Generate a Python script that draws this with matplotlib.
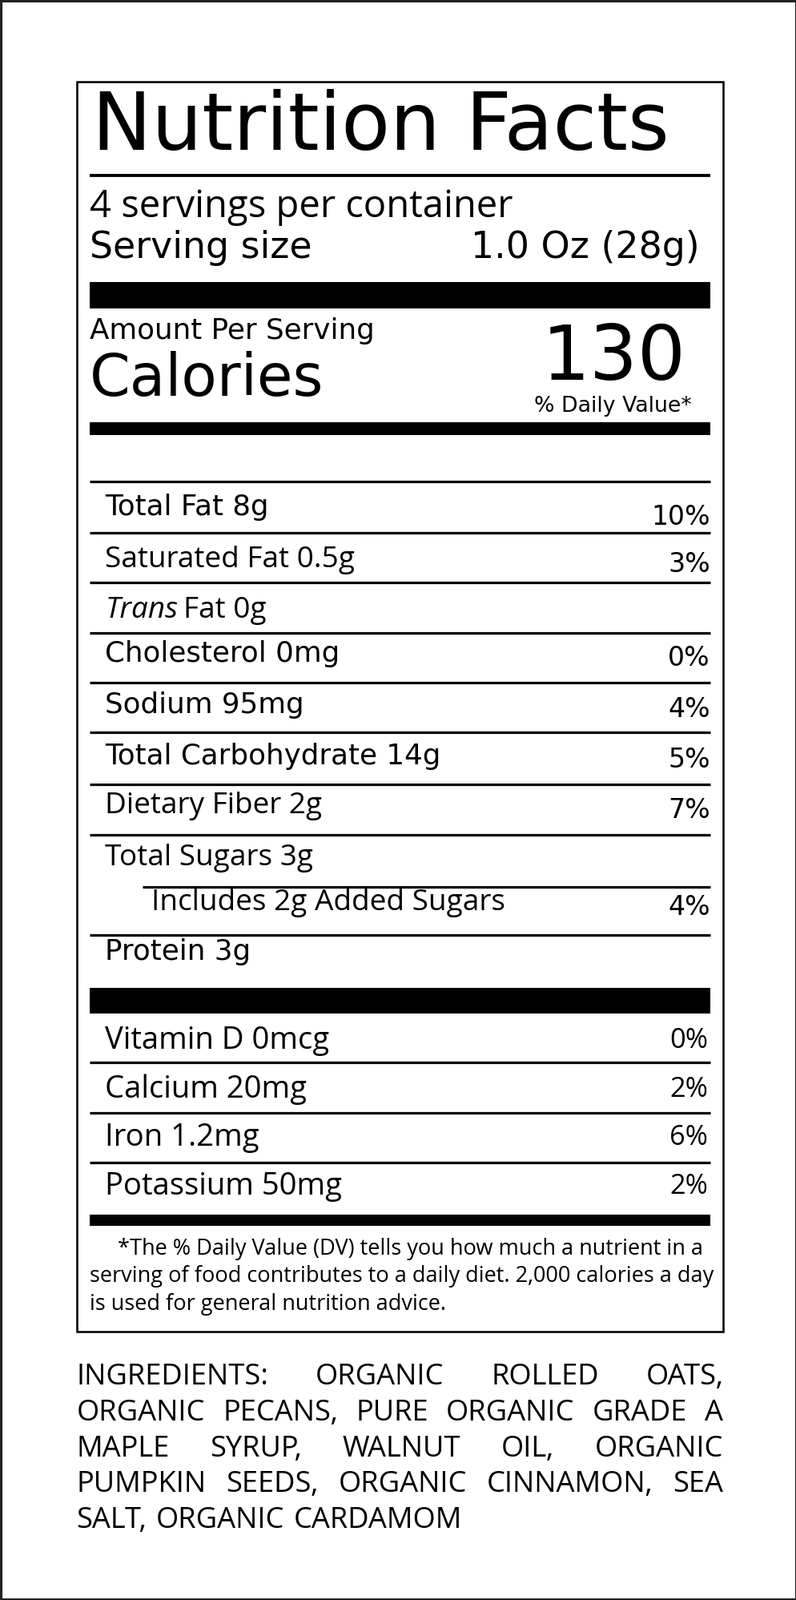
import matplotlib.pyplot as plt
from matplotlib.patches import Rectangle

# scale from the 781px-wide layout grid to the 995px output
S = 995 / 781.0
PT = S * 0.72


def fs(px):
    return px * PT


serving_line = '4 servings per container'
serving_size = '1.0 Oz (28g)'
calories = '130'

main_labels = ['Total Fat', 'Saturated Fat', 'Trans', 'Cholesterol', 'Sodium',
               'Total Carbohydrate', 'Dietary Fiber', 'Total Sugars',
               'Includes 2g Added Sugars', 'Protein']
main_amounts = ['8g', '0.5g', 'Fat 0g', '0mg', '95mg', '14g', '2g', '3g', '', '3g']
main_dv = ['10%', '3%', '', '0%', '4%', '5%', '7%', '', '4%', '']
main_y = [497, 549, 598, 641, 691, 741, 790, 841, 885, 933]
main_lines = [522, 571, 620, 669, 718, 769, 818, 869, 916]
headline = [True, False, False, True, True, True, False, False, False, True]

vit_labels = ['Vitamin D 0mcg', 'Calcium 20mg', 'Iron 1.2mg', 'Potassium 50mg']
vit_dv = ['0%', '2%', '6%', '2%']
vit_y = [1020, 1068, 1115, 1163]
vit_lines = [1041, 1091, 1139]

footnote = ['     *The % Daily Value (DV) tells you how much a nutrient in a',
            'serving of food contributes to a daily diet. 2,000 calories a day',
            'is used for general nutrition advice.']
ingredients = ['INGREDIENTS: ORGANIC ROLLED OATS,',
               'ORGANIC PECANS, PURE ORGANIC GRADE A',
               'MAPLE SYRUP, WALNUT OIL, ORGANIC',
               'PUMPKIN SEEDS, ORGANIC CINNAMON, SEA',
               'SALT, ORGANIC CARDAMOM']

HEAD = 'DejaVu Sans'
BODY = 'Open Sans'

fig = plt.figure(figsize=(9.95, 19.97), dpi=100)
ax = fig.add_axes([0, 0, 1, 1])
ax.set_xlim(0, 781)
ax.set_ylim(1568, 0)
ax.axis('off')

# screenshot frame
ax.add_patch(Rectangle((0, 0), 781, 1568, fill=False, ec='#222222', lw=4 * PT))
# label box
ax.add_patch(Rectangle((75, 80), 634, 1225, fill=False, ec='black', lw=2 * PT))


def hline(y, x0=88, x1=696, w=2.5):
    ax.plot([x0, x1], [y, y], color='black', lw=w * PT, solid_capstyle='butt')


def bar(y0, y1):
    ax.add_patch(Rectangle((88, y0), 608, y1 - y0, color='black', lw=0))


ax.text(90, 125, 'Nutrition Facts', fontsize=fs(78), family=HEAD, va='center')
hline(172, w=3)
ax.text(88, 203, serving_line, fontsize=fs(37), family=BODY, va='center')
ax.text(88, 243, 'Serving size', fontsize=fs(36), family=HEAD, va='center')
ax.text(686, 243, serving_size, fontsize=fs(36), family=HEAD, va='center', ha='right')
bar(276, 302)
ax.text(88, 324, 'Amount Per Serving', fontsize=fs(28), family=HEAD, va='center')
ax.text(88, 372, 'Calories', fontsize=fs(57), family=HEAD, va='center')
ax.text(672, 352, calories, fontsize=fs(74), family=HEAD, va='center', ha='right')
ax.text(678, 398, '% Daily Value*', fontsize=fs(21), family=HEAD, va='center', ha='right')
bar(414, 426)
hline(472)

for i, lab in enumerate(main_labels):
    y = main_y[i]
    x = 148 if i == 8 else 103
    if lab == 'Trans':
        ax.text(x, y, 'Trans', fontsize=fs(29), family=BODY, style='italic', va='center')
        ax.text(x + 77, y, main_amounts[i], fontsize=fs(29), family=BODY, va='center')
    elif headline[i]:
        ax.text(x, y, lab + ' ' + main_amounts[i], fontsize=fs(28), family=HEAD, va='center')
    else:
        ax.text(x, y, (lab + ' ' + main_amounts[i]).strip(), fontsize=fs(29), family=BODY, va='center')
    if main_dv[i]:
        ax.text(696, y + 10 if i == 0 else y + 4, main_dv[i], fontsize=fs(26), family=HEAD,
                va='center', ha='right')
for j, y in enumerate(main_lines):
    hline(y, x0=140 if j == 7 else 88)

bar(968, 993)
for i, lab in enumerate(vit_labels):
    ax.text(103, vit_y[i], lab, fontsize=fs(30), family=BODY, va='center')
    ax.text(694, vit_y[i], vit_dv[i], fontsize=fs(27), family=BODY, va='center', ha='right')
for y in vit_lines:
    hline(y)
bar(1190, 1201)

for k, line in enumerate(footnote):
    ax.text(88, 1224 + 27 * k, line, fontsize=fs(21.3), family=BODY, va='center')

# justified ingredients block
fig.canvas.draw()
r = fig.canvas.get_renderer()
inv = ax.transData.inverted()
for k, line in enumerate(ingredients):
    y = 1350 + 35 * k
    words = line.split(' ')
    last = k == len(ingredients) - 1
    arts = []
    widths = []
    for w in words:
        t = ax.text(0, y, w, fontsize=fs(28.5), family=BODY, va='center')
        bb = t.get_window_extent(r)
        x0 = inv.transform((bb.x0, bb.y0))[0]
        x1 = inv.transform((bb.x1, bb.y0))[0]
        arts.append(t)
        widths.append(x1 - x0)
    if last or len(words) == 1:
        gap = 9
    else:
        gap = (709 - 75 - sum(widths)) / (len(words) - 1)
    x = 75
    for t, wd in zip(arts, widths):
        t.set_x(x)
        x += wd + gap

fig.savefig('out.png', dpi=100)
